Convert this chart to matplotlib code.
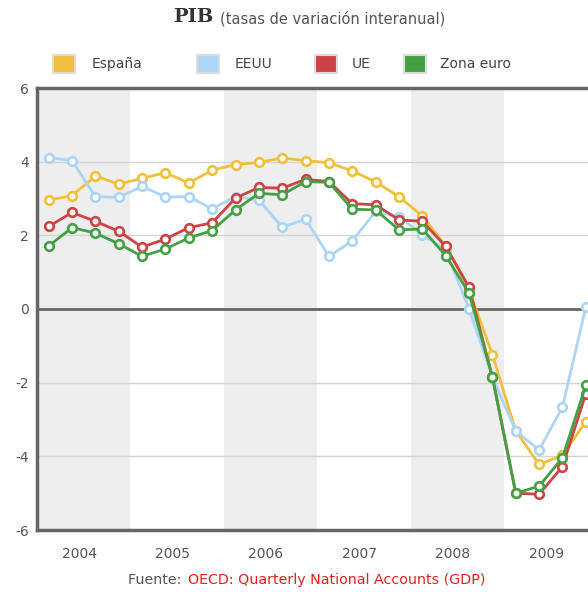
import matplotlib.pyplot as plt
from matplotlib.patches import Rectangle

years = [2004, 2005, 2006, 2007, 2008, 2009]
quarters = [y + (q - 0.5) / 4 for y in years for q in range(1, 5)]

espana = [2.95, 3.08, 3.61, 3.39, 3.55, 3.70, 3.42, 3.77,
          3.92, 3.98, 4.10, 4.03, 3.97, 3.75, 3.45, 3.05,
          2.52, 1.72, 0.52, -1.24, -3.31, -4.22, -3.97, -3.06]
eeuu = [4.11, 4.03, 3.05, 3.03, 3.33, 3.04, 3.05, 2.72,
        3.05, 2.96, 2.22, 2.44, 1.43, 1.85, 2.65, 2.51,
        2.02, 1.60, 0.00, -1.85, -3.31, -3.83, -2.66, 0.05]
ue = [2.24, 2.62, 2.38, 2.11, 1.68, 1.90, 2.21, 2.34,
      3.01, 3.30, 3.28, 3.52, 3.46, 2.86, 2.83, 2.42,
      2.38, 1.70, 0.59, -1.85, -5.00, -5.03, -4.28, -2.30]
zona_euro = [1.71, 2.21, 2.06, 1.77, 1.43, 1.63, 1.93, 2.13,
             2.69, 3.14, 3.10, 3.46, 3.44, 2.71, 2.69, 2.15,
             2.17, 1.45, 0.43, -1.84, -5.00, -4.81, -4.04, -2.07]

series = [('España', espana, '#f0c03c'),
          ('EEUU', eeuu, '#acd5f5'),
          ('UE', ue, '#cc4444'),
          ('Zona euro', zona_euro, '#44a044')]

W, H = 588, 592
fig = plt.figure(figsize=(W / 100, H / 100), dpi=100)
ax = fig.add_axes([37 / W, 62 / H, 560.5 / W, 442 / H])

# bandas alternas por año
for i, y in enumerate(years):
    if i % 2 == 0:
        ax.axvspan(y, y + 1, color='#eeeeee', zorder=0, lw=0)

for v in [-4, -2, 2, 4]:
    ax.axhline(v, color='#d4d4d4', lw=1, zorder=1)
ax.axhline(0, color='#666666', lw=2, zorder=2)

for name, vals, col in series:
    ax.plot(quarters, vals, color=col, lw=2, marker='o', ms=6.2,
            mfc='white', mec=col, mew=1.9, zorder=3)

ax.set_xlim(2004, 2010)
ax.set_ylim(-6, 6)
ax.set_yticks([-6, -4, -2, 0, 2, 4, 6])
ax.set_yticklabels(['-6', '-4', '-2', '0', '2', '4', '6'])
ax.set_xticks([y + 0.45 for y in years])
ax.set_xticklabels([str(y) for y in years])
ax.tick_params(length=0, colors='#555555', labelsize=10)
ax.tick_params(axis='x', pad=12)
ax.tick_params(axis='y', pad=6)
for s in ['left', 'top', 'bottom']:
    ax.spines[s].set_color('#666666')
    ax.spines[s].set_linewidth(2.5)
ax.spines['right'].set_visible(False)

# título
fig.text(213 / W, 1 - 17 / H, 'PIB', ha='right', va='center', fontsize=14,
         fontweight='bold', family='DejaVu Serif', color='#333333')
fig.text(220 / W, 1 - 19 / H, '(tasas de variación interanual)',
         ha='left', va='center', fontsize=10.5, color='#555555')

# leyenda
leg_x = [53, 197, 315, 404]
txt_x = [92, 235, 352, 440]
for (name, vals, col), lx, tx in zip(series, leg_x, txt_x):
    fig.patches.append(Rectangle((lx / W, 1 - 73 / H), 22 / W, 18 / H,
                                 transform=fig.transFigure, facecolor=col,
                                 edgecolor='#dddddd', lw=1.5))
    fig.text(tx / W, 1 - 64 / H, name, ha='left', va='center',
             fontsize=10, color='#444444')

# fuente
fig.text(128 / W, 1 - 580 / H, 'Fuente: ', ha='left', va='center',
         fontsize=10.3, color='#555555')
fig.text(188 / W, 1 - 580 / H, 'OECD: Quarterly National Accounts (GDP)',
         ha='left', va='center', fontsize=10.3, color='#dd2222')

fig.savefig('out.png', dpi=100)
